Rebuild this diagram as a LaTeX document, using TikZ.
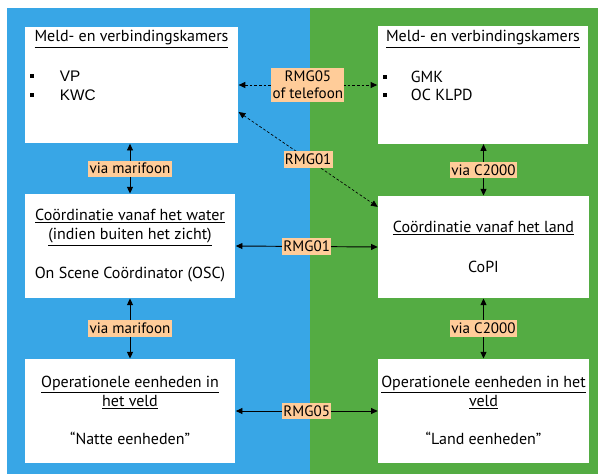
\documentclass[tikz,border=0pt]{standalone}
\usepackage{fontspec}
\setmainfont{PT Sans}
\newfontfamily\arialfont{Liberation Sans}
\usetikzlibrary{arrows.meta,calc}
\definecolor{water}{RGB}{56,166,230}
\definecolor{land}{RGB}{84,172,67}
\definecolor{perzik}{RGB}{255,204,153}

\begin{document}
\begin{tikzpicture}[
	x=0.75pt, y=-0.75pt,
	font=\fontsize{12}{14.25}\selectfont,
	>={Triangle[length=5pt,width=4.5pt]},
	line width=0.7pt
]
\tikzset{
    kamer/.style = {rectangle, fill=white, inner sep=0pt, minimum width=158pt, minimum height=78pt},
    lbl/.style = {fill=perzik, inner xsep=1pt, inner ysep=2pt, align=center, font=\fontsize{11.3}{13}\selectfont},
    blok/.style = {rectangle, fill=black, inner sep=0pt, minimum width=3.5pt, minimum height=3pt},
    punt/.style = {anchor=west, font=\arialfont\fontsize{11.5}{13}\selectfont},
    stip/.style = {dash pattern=on 2pt off 1.5pt},
}
\useasboundingbox (0,0) rectangle (598,474);
\fill[water] (7,8) rectangle (310,474);
\fill[land] (310,8) rectangle (598,474);

\node (tl) [kamer, minimum width=160pt, minimum height=87.5pt] at (131.5,85) {};
\node (tr) [kamer, minimum height=88pt] at (483,85) {};
\node (ml) [kamer] at (130,246) {};
\node (mr) [kamer, minimum height=76.5pt] at (483.5,247) {};
\node (bl) [kamer] at (130,411) {};
\node (br) [kamer] at (483.5,411) {};

\node (tlkop) at (131.5,39) {\underline{Meld- en verbindingskamers}};
\node (tlb1) [blok] at (32,76) {};
\node (tlb2) [blok] at (32,95) {};
\node (vp) [punt] at (55,76) {VP};
\node (kwc) [punt] at (55,95) {KWC};

\node (trkop) at (483,39) {\underline{Meld- en verbindingskamers}};
\node (trb1) [blok] at (385,77) {};
\node (trb2) [blok] at (385,95) {};
\node (gmk) [anchor=west] at (406,77) {GMK};
\node (oc) [anchor=west] at (406,95) {OC KLPD};

\node (mlkop) [align=center] at (130,227.5) {\underline{Coördinatie vanaf het water}\\\underline{(indien buiten het zicht)}};
\node (osc) at (130,275) {On Scene Coördinator (OSC)};

\node (mrkop) at (483.5,228) {\underline{Coördinatie vanaf het land}};
\node (copi) at (483.5,267) {CoPI};

\node (blkop) [align=center] at (130,392.5) {\underline{Operationele eenheden in}\\\underline{het veld}};
\node (nat) at (130,438) {“Natte eenheden”};

\node (brkop) [align=center] at (483.5,392.5) {\underline{Operationele eenheden in het}\\\underline{veld}};
\node (droog) at (483.5,438) {“Land eenheden”};

\draw[<->, stip] (tl.east) -- node[lbl] {RMG05\\of telefoon} (tr.west);
\draw[<->, stip, line width=0.5pt] ($(tl.north east)!0.73!(tl.south east)$) -- node[lbl] {RMG01} ($(mr.north west)!0.11!(mr.south west)$);
\draw[<->] (ml.east) -- node[lbl] {RMG01} (mr.west);
\draw[<->] (bl.east) -- node[lbl] {RMG05} (br.west);
\draw[<->] (ml.north |- tl.south) -- node[lbl] {via marifoon} (ml.north);
\draw[<->] (ml.south) -- node[lbl] {via marifoon} (bl.north);
\draw[<->] (mr.north |- tr.south) -- node[lbl] {via C2000} (mr.north);
\draw[<->] (mr.south) -- node[lbl] {via C2000} (br.north);
\end{tikzpicture}
\end{document}
